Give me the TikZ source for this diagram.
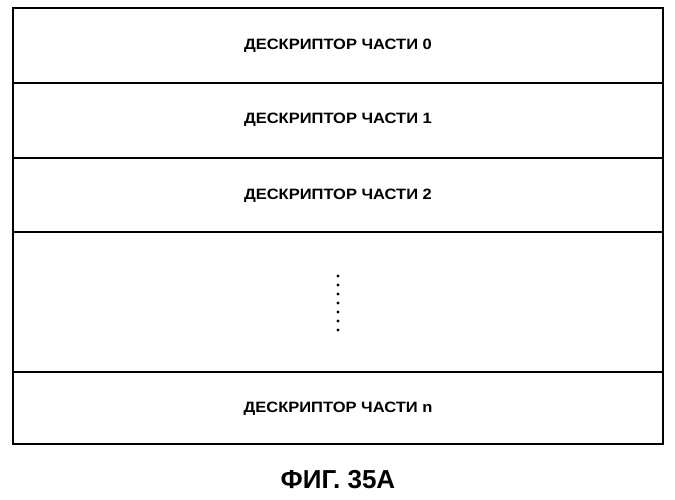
\documentclass[tikz,border=0pt]{standalone}
\usepackage{fontspec}
\setmainfont{Liberation Sans}
\begin{document}
\begin{tikzpicture}[x=1pt,y=-1pt,
  lbl/.style={font=\bfseries\fontsize{15}{18}\selectfont, xscale=1.1},
  figcap/.style={font=\bfseries\fontsize{26}{30}\selectfont}]
\useasboundingbox (0,0) rectangle (675,500);
\draw[line width=1.3pt] (13,8) rectangle (663,444);
\foreach \y in {83,158,232,372} \draw[line width=1.1pt] (13,\y) -- (663,\y);
\node[lbl] (r0) at (338,46) {ДЕСКРИПТОР ЧАСТИ 0};
\node[lbl] (r1) at (338,120) {ДЕСКРИПТОР ЧАСТИ 1};
\node[lbl] (r2) at (338,196) {ДЕСКРИПТОР ЧАСТИ 2};
\node[lbl] (rn) at (338,409) {ДЕСКРИПТОР ЧАСТИ n};
\foreach \y in {276,285,294,303,312,321,330} \fill (338,\y) circle (1.7);
\node[figcap] (c) at (338,480) {ФИГ. 35A};
\end{tikzpicture}
\end{document}
